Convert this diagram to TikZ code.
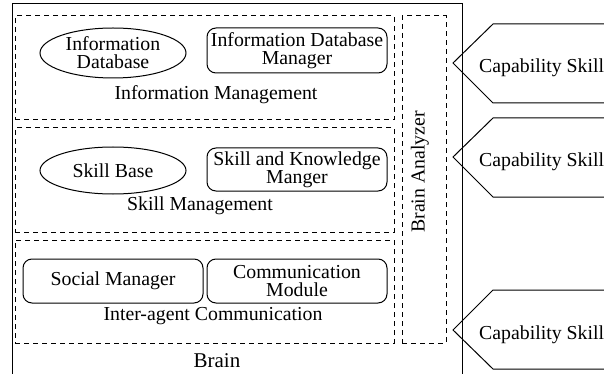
\documentclass[tikz,border=0pt]{standalone}
\usepackage{fontspec}
\setmainfont{Liberation Serif}
\usetikzlibrary{shapes.geometric}
\begin{document}
\begin{tikzpicture}[x=1pt,y=-1pt,
  every node/.style={font=\fontsize{19.8}{18}\selectfont, align=center, inner sep=0pt},
  dbox/.style={draw, line width=1pt, dash pattern=on 5pt off 4pt, rectangle},
  ell/.style={draw, line width=1pt, ellipse, minimum width=146pt, minimum height=50pt},
  rbox/.style={draw, line width=1pt, rounded corners=9pt, minimum width=180pt},
  capline/.style={draw, line width=1pt, line join=miter},
  lbl/.style={}]
\useasboundingbox (0,0) rectangle (604,374);
\clip (0,0) rectangle (604,374);

% outer Brain frame
\draw[line width=1pt] (12,400) -- (12,4) -- (462,4) -- (462,400);
\node[lbl, font=\fontsize{21}{21}\selectfont] (brain) at (217,361) {Brain};

% dashed groups
\node[dbox, minimum width=379pt, minimum height=104pt] (infomgmt) at (204.5,68) {};
\node[dbox, minimum width=379pt, minimum height=104pt] (skillmgmt) at (204.5,180) {};
\node[dbox, minimum width=379pt, minimum height=103pt] (intermgmt) at (204.5,291.5) {};
\node[dbox, minimum width=44pt, minimum height=327pt] (analyzer) at (424,179.5) {};
\node[lbl, rotate=90] (analyzerlbl) at (420,172) {Brain Analyzer};

% Information Management
\node[ell] (infodb) at (113,53) {Information\\Database};
\node[rbox, minimum height=45pt] (infodbm) at (297,50.5) {Information Database\\Manager};
\node[lbl] (infolbl) at (216,95) {Information Management};

% Skill Management
\node[ell, minimum height=47pt] (skillbase) at (113,170.5) {Skill Base};
\node[rbox, minimum height=43pt] (skillkm) at (297,169.5) {Skill and Knowledge\\Manger};
\node[lbl] (skilllbl) at (200,206) {Skill Management};

% Inter-agent Communication
\node[rbox, minimum height=44pt] (social) at (113,281) {Social Manager};
\node[rbox, minimum height=44pt] (comm) at (297,281) {Communication\\Module};
\node[lbl] (interlbl) at (213,316) {Inter-agent Communication};

% capability skill tags
\coordinate (tipA) at (453,63);
\coordinate (tipB) at (453,157);
\coordinate (tipC) at (453,330);
\draw[capline] (620,24) -- (493,24) -- (tipA) -- (493,103) -- (620,103);
\draw[capline] (620,118) -- (493,118) -- (tipB) -- (493,197) -- (620,197);
\draw[capline] (620,290) -- (493,290) -- (tipC) -- (493,369) -- (620,369);
\node[lbl, anchor=west] (capA) at (479,68) {Capability Skill};
\node[lbl, anchor=west] (capB) at (479,162) {Capability Skill};
\node[lbl, anchor=west] (capC) at (479,335) {Capability Skill};
\end{tikzpicture}
\end{document}
